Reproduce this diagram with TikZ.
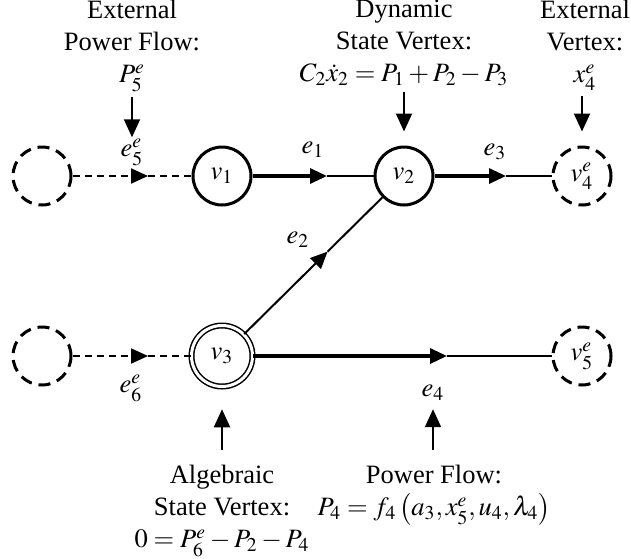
\documentclass[tikz,border=0pt]{standalone}
\usepackage{mathptmx}
\usepackage{fontspec}
\setmainfont{Liberation Serif}
\usetikzlibrary{arrows.meta,calc}
\tikzset{
  vtx/.style={circle, draw, line width=1.5pt, minimum size=29pt, inner sep=0pt},
  extvtx/.style={vtx, dash pattern=on 6pt off 3.5pt},
  algvtx/.style={circle, draw, double, line width=0.75pt, double distance=1.5pt,
    minimum size=30.5pt, inner sep=0pt},
  lbl/.style={inner sep=0pt},
  txt/.style={align=center, inner sep=0pt, anchor=north}}

\begin{document}
\begin{tikzpicture}[x=0.5pt, y=-0.5pt,
    font=\fontsize{13.25pt}{16pt}\selectfont,
    tip/.style={-{Triangle[length=8.5pt, width=7.5pt]}},
    thk/.style={tip, line width=1.6pt},
    thn/.style={line width=1.3pt},
    dsh/.style={line width=1pt, dash pattern=on 3.5pt off 2.5pt},
    ptr/.style={-{Triangle[length=9pt, width=8pt]}, line width=1pt}]
  \useasboundingbox (0,0) rectangle (631,558);
  % vertices
  \node[extvtx] (x5) at (42,176) {};
  \node[vtx] (v1) at (222,176) {$v_1$};
  \node[vtx] (v2) at (404,176) {$v_2$};
  \node[extvtx] (v4) at (582,176) {$v_4^e$};
  \node[extvtx] (x6) at (42,356) {};
  \node[algvtx] (v3) at (222,356) {$v_3$};
  \node[extvtx] (v5) at (582,356) {$v_5^e$};
  % arrow positions on the edges
  \coordinate (a5) at (148,176);
  \coordinate (a1) at (327,176);
  \coordinate (a3) at (506,176);
  \coordinate (a6) at (148,356);
  \coordinate (a4) at (447,356);
  \coordinate (a2) at ($(v3)!0.58!(v2)$);
  % edges
  \draw[dsh, tip] (x5) -- (a5);
  \draw[dsh] (a5) -- (v1);
  \draw[thk] (v1) -- (a1);
  \draw[thn] (a1) -- (v2);
  \draw[thk] (v2) -- (a3);
  \draw[thn] (a3) -- (v4);
  \draw[dsh, tip] (x6) -- (a6);
  \draw[dsh] (a6) -- (v3);
  \draw[thk] (v3) -- (a4);
  \draw[thn] (a4) -- (v5);
  \draw[tip, line width=1pt] (v3) -- (a2);
  \draw[line width=1pt] (a2) -- (v2);
  % edge labels
  \node[lbl] (l5) at (132,152) {$e_5^e$};
  \node[lbl] (l1) at (313,150) {$e_1$};
  \node[lbl] (l3) at (495,152) {$e_3$};
  \node[lbl] (l2) at (298,240) {$e_2$};
  \node[lbl] (l6) at (131,388) {$e_6^e$};
  \node[lbl] (l4) at (433,393) {$e_4$};
  % annotations
  \node[txt] (tP5) at (132,0) {External\\Power Flow:\\$P_5^e$};
  \node[txt] (tC2) at (404,0) {Dynamic\\State Vertex:\\$C_2\dot{x}_2=P_1+P_2-P_3$};
  \node[txt] (tX4) at (585,0) {External\\Vertex:\\$x_4^e$};
  \node[txt] (tA3) at (222,465) {Algebraic\\State Vertex:\\$0=P_6^e-P_2-P_4$};
  \node[txt] (tF4) at (434,465) {Power Flow:\\$P_4=f_4\left(a_3,x_5^e,u_4,\lambda_4\right)$};
  % pointers
  \draw[ptr, shorten <=2.5pt, shorten >=0.5pt] (l5 |- tP5.south) -- (l5);
  \draw[ptr, shorten <=2.5pt, shorten >=7pt] (v2 |- tC2.south) -- (v2);
  \draw[ptr, shorten <=2.5pt, shorten >=7pt] (v4 |- tX4.south) -- (v4);
  \draw[ptr, shorten <=7.5pt, shorten >=11pt] (v3 |- tA3.north) -- (v3);
  \draw[ptr, shorten <=7.5pt, shorten >=4pt] (l4 |- tF4.north) -- (l4);
\end{tikzpicture}
\end{document}
